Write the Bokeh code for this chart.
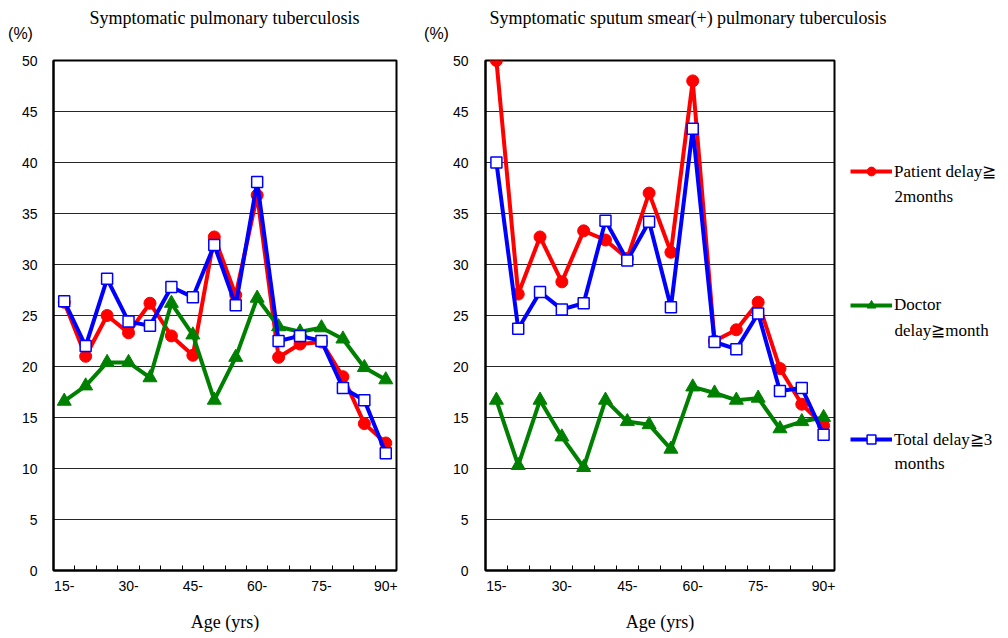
import numpy as np
from bokeh.plotting import figure
from bokeh.models import (Range1d, FixedTicker, SingleIntervalTicker,
                          Legend, LegendItem)
from bokeh.core.properties import value
from bokeh.layouts import row, column
from bokeh.embed import file_html
from bokeh.resources import INLINE

# ---------------- data ----------------
ages = ["15-", "20-", "25-", "30-", "35-", "40-", "45-", "50-",
        "55-", "60-", "65-", "70-", "75-", "80-", "85-", "90+"]
shown_ages = ["15-", "30-", "45-", "60-", "75-", "90+"]

pul_patient = [26.3, 21.0, 25.0, 23.3, 26.2, 23.0, 21.1, 32.7,
               27.0, 36.8, 20.9, 22.2, 22.4, 19.0, 14.4, 12.5]
pul_doctor = [16.6, 18.1, 20.4, 20.4, 18.9, 26.2, 23.1, 16.7,
              20.9, 26.7, 23.9, 23.4, 23.8, 22.7, 19.9, 18.7]
pul_total = [26.4, 22.0, 28.6, 24.4, 24.0, 27.8, 26.8, 31.9,
             26.0, 38.1, 22.5, 23.0, 22.5, 17.9, 16.7, 11.5]

smear_patient = [50.0, 27.1, 32.7, 28.3, 33.3, 32.4, 30.6, 37.0,
                 31.2, 48.0, 22.5, 23.6, 26.3, 19.8, 16.3, 14.2]
smear_doctor = [16.7, 10.3, 16.7, 13.1, 10.1, 16.7, 14.6, 14.3,
                11.9, 18.0, 17.4, 16.7, 16.9, 13.9, 14.6, 15.0]
smear_total = [40.0, 23.7, 27.3, 25.6, 26.2, 34.3, 30.4, 34.2,
               25.8, 43.3, 22.4, 21.7, 25.2, 17.6, 17.9, 13.3]

series_labels = ["Patient delay≧", "Doctor", "Total delay≧3"]
series_labels_2nd = ["2months", "delay≧month", "months"]
titles = ["Symptomatic pulmonary tuberculosis",
          "Symptomatic sputum smear(+) pulmonary  tuberculosis"]
unit_text = "(%)"
x_title = "Age (yrs)"

# ---------------- styling ----------------
RED, GREEN, BLUE = "#FF0000", "#008000", "#0000FF"
SERIF = "Liberation Serif"
SANS = "Liberation Sans"
X0, Y0 = 1, 1            # page pixel where the layout starts
TOP_H = 48               # header strip with the titles
CH_TOP = Y0 + TOP_H      # charts start here
CH_BOT = 637             # charts end here
N = len(ages)
xs = list(range(1, N + 1))


def make_fig(page_left, page_right, frame, ystand):
    left, right, top, bottom = frame
    p = figure(width=page_right - page_left, height=CH_BOT - CH_TOP,
               x_range=Range1d(0.5, N + 0.5), y_range=Range1d(0, 50),
               output_backend="svg", toolbar_location=None,
               min_border_left=left - page_left,
               min_border_right=page_right - right,
               min_border_top=top - CH_TOP,
               min_border_bottom=CH_BOT - bottom)
    p.background_fill_color = "white"
    p.border_fill_color = "white"
    p.outline_line_color = "black"
    p.outline_line_width = 2
    p.xgrid.visible = False
    p.ygrid.grid_line_color = "black"
    p.ygrid.grid_line_alpha = 0.85
    p.ygrid.grid_line_width = 1

    # x axis: labels every 3rd group, small inward ticks between groups
    label_pos = [xs[ages.index(a)] for a in shown_ages]
    p.xaxis.ticker = FixedTicker(ticks=label_pos,
                                 minor_ticks=[x + 0.5 for x in xs[:-1]])
    p.xaxis.major_label_overrides = {pos: a for pos, a in zip(label_pos, shown_ages)}
    p.xaxis.major_tick_in = 0
    p.xaxis.major_tick_out = 0
    p.xaxis.minor_tick_in = 5
    p.xaxis.minor_tick_out = 0
    p.xaxis.minor_tick_line_color = "black"
    p.xaxis.minor_tick_line_width = 1
    p.xaxis.axis_line_width = 2
    p.xaxis.major_label_standoff = 10
    p.xaxis.major_label_text_font = SANS
    p.xaxis.major_label_text_font_size = "14px"
    p.xaxis.major_label_text_color = "black"
    p.xaxis.axis_label = x_title
    p.xaxis.axis_label_text_font = SERIF
    p.xaxis.axis_label_text_font_style = "normal"
    p.xaxis.axis_label_text_font_size = "18px"
    p.xaxis.axis_label_text_color = "black"
    p.xaxis.axis_label_standoff = 18

    p.yaxis.ticker = SingleIntervalTicker(interval=5, num_minor_ticks=0)
    p.yaxis.major_tick_in = 0
    p.yaxis.major_tick_out = 0
    p.yaxis.minor_tick_in = 0
    p.yaxis.minor_tick_out = 0
    p.yaxis.axis_line_width = 2
    p.yaxis.major_label_standoff = ystand
    p.yaxis.major_label_text_font = SANS
    p.yaxis.major_label_text_font_size = "14px"
    p.yaxis.major_label_text_color = "black"
    p.ygrid.ticker = p.yaxis.ticker
    return p


def pixel_fig(page_left, page_right, page_top, page_bottom, frame_top, frame_bottom):
    """A blank figure whose data space equals page pixels (y downward)."""
    p = figure(width=page_right - page_left, height=page_bottom - page_top,
               x_range=Range1d(page_left, page_right),
               y_range=Range1d(frame_bottom, frame_top),
               x_axis_type=None, y_axis_type=None,
               output_backend="svg", toolbar_location=None,
               min_border_left=0, min_border_right=0,
               min_border_top=frame_top - page_top,
               min_border_bottom=page_bottom - frame_bottom)
    p.outline_line_color = None
    p.background_fill_color = "white"
    p.border_fill_color = "white"
    p.grid.visible = False
    return p


def draw_series(p, patient, doctor, total):
    r_pl = p.line(xs, patient, line_color=RED, line_width=4, line_join="round")
    r_ps = p.scatter(xs, patient, marker="circle", size=12,
                     fill_color=RED, line_color=RED)
    r_dl = p.line(xs, doctor, line_color=GREEN, line_width=4, line_join="round")
    r_ds = p.scatter(xs, doctor, marker="triangle", size=14,
                     fill_color=GREEN, line_color=GREEN)
    r_tl = p.line(xs, total, line_color=BLUE, line_width=4, line_join="round")
    r_ts = p.scatter(xs, total, marker="square", size=11,
                     fill_color="white", line_color=BLUE, line_width=1.5)
    return [(r_pl, r_ps), (r_dl, r_ds), (r_tl, r_ts)]


def put_text(p, x, y, text, font, size, align="left"):
    p.text(x=[x], y=[y], text=[text], text_font=value(font),
           text_font_size=size, text_align=align, text_baseline="middle",
           text_color="black")


# ---------------- header strip (titles, unit labels) ----------------
p0 = pixel_fig(X0, 1007, Y0, CH_TOP, Y0, CH_TOP)
put_text(p0, 225, 18, titles[0], SERIF, "18px", "center")
put_text(p0, 490, 18, titles[1], SERIF, "18px", "left")
put_text(p0, 21, 34, unit_text, SANS, "16px", "center")
put_text(p0, 437, 34, unit_text, SANS, "16px", "center")

# ---------------- left chart ----------------
F1 = (54, 397, 61, 571)
p1 = make_fig(X0, 420, F1, 16)
draw_series(p1, pul_patient, pul_doctor, pul_total)

# ---------------- right chart ----------------
F2 = (486, 835, 59, 571)
p2 = make_fig(420, 845, F2, 17)
draw_series(p2, smear_patient, smear_doctor, smear_total)

# ---------------- legend panel (series drawn out of view, legend only) ------
p3 = pixel_fig(845, 1007, CH_TOP, CH_BOT, F2[2], F2[3])
leg_rends = draw_series(p3, smear_patient, smear_doctor, smear_total)
items = [LegendItem(label=lab, renderers=list(r))
         for lab, r in zip(series_labels, leg_rends)]
item_h, first_top, step = 22, 161, 134
legend_bottom = first_top + 2 * step + item_h
legend = Legend(items=items,
                location=(851 - 845, F2[3] - legend_bottom),
                orientation="vertical", spacing=step - item_h,
                padding=0, margin=0,
                glyph_width=42, glyph_height=item_h, label_height=item_h,
                label_standoff=2, label_text_font=SERIF,
                label_text_font_size="17px", label_text_color="black",
                label_text_baseline="middle",
                border_line_alpha=0, background_fill_alpha=0)
p3.add_layout(legend)
for k, text in enumerate(series_labels_2nd):
    put_text(p3, 895, first_top + item_h / 2 + k * step + 24, text, SERIF, "17px")

layout = column(p0, row(p1, p2, p3))
open("out.html", "w").write(file_html(layout, INLINE))
